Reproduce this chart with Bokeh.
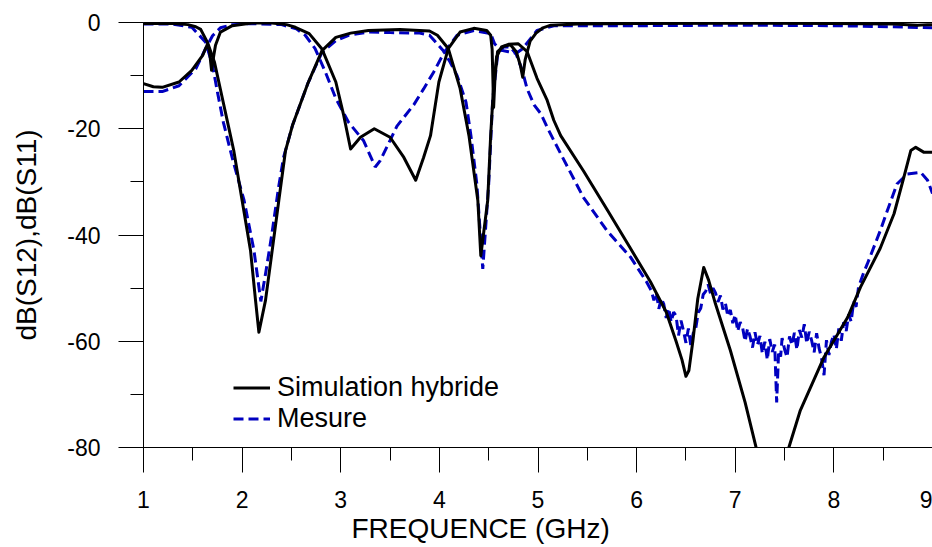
from bokeh.plotting import figure
from bokeh.models import (SingleIntervalTicker, LinearAxis, Legend, LegendItem,
                          Range1d, FixedTicker, PrintfTickFormatter, Title)
from bokeh.embed import file_html
from bokeh.resources import INLINE

# ---- data (frequency in GHz, level in dB) ----
x_ticks_interval = 1
y_ticks_interval = 20
x_title = "FREQUENCE (GHz)"
y_title = "dB(S12),dB(S11)"

sim_s12_f = [1.0, 1.3, 1.45, 1.53, 1.58, 1.65, 1.72, 1.80, 1.86, 1.915, 2.0, 2.085,
             2.136, 2.17, 2.237, 2.305, 2.372, 2.44, 2.51, 2.67, 2.81, 2.95, 3.1,
             3.28, 3.6, 3.9, 3.98, 4.09, 4.21, 4.30, 4.39, 4.42, 4.49, 4.52, 4.55,
             4.58, 4.63, 4.70, 4.80, 4.89, 4.99, 5.09, 5.16, 5.23, 5.46, 5.70, 5.94,
             6.14, 6.30, 6.40, 6.46, 6.50, 6.53, 6.57, 6.62, 6.68, 6.73, 6.80, 6.95,
             7.10, 7.21, 7.38, 7.545, 7.66, 7.90, 8.14, 8.27, 8.47, 8.61, 8.71, 8.78,
             8.83, 8.91, 9.0]
sim_s12_db = [-0.2, -0.2, -0.4, -0.8, -1.3, -3.8, -7.5, -14.3, -19.4, -24.1, -33.5, -42.9,
              -52.3, -58.3, -52.3, -42.9, -33.5, -24.1, -19.4, -11.3, -5.3, -2.8, -2.0,
              -1.5, -1.3, -1.6, -2.4, -4.9, -12.4, -21.3, -33.5, -43.9, -33.5, -21.3, -12.0,
              -6.5, -4.6, -4.1, -4.0, -5.5, -10.5, -14.5, -18.4, -21.3, -27.9, -35.2, -42.6,
              -48.8, -54.5, -60.0, -63.5, -66.6, -65.5, -60.0, -52.0, -46.1, -48.5, -53.0, -61.7,
              -71.5, -79.9, -95.0, -79.9, -73.0, -63.0, -55.5, -49.8, -42.5, -36.0, -29.1, -24.1,
              -23.5, -24.4, -24.4]

sim_s11_f = [1.0, 1.1, 1.19, 1.36, 1.49, 1.60, 1.65, 1.67, 1.69, 1.71, 1.73, 1.78, 1.90,
             2.10, 2.30, 2.45, 2.54, 2.68, 2.81, 2.95, 3.03, 3.10, 3.20, 3.34, 3.50, 3.64,
             3.76, 3.84, 3.91, 3.995, 4.09, 4.21, 4.35, 4.48, 4.52, 4.535, 4.55, 4.565,
             4.59, 4.65, 4.72, 4.78, 4.82, 4.845, 4.87, 4.92, 4.98, 5.05, 5.13, 5.4, 6.0,
             7.0, 8.0, 8.6, 8.85, 8.95, 9.0]
sim_s11_db = [-11.5, -12.1, -12.2, -11.2, -9.0, -6.2, -4.0, -5.5, -9.0, -6.5, -4.3, -1.8, -0.6,
              -0.1, -0.1, -0.4, -0.9, -2.1, -5.0, -11.2, -17.5, -23.8, -21.6, -20.0, -21.6, -25.4,
              -29.7, -25.4, -21.3, -11.2, -4.9, -1.8, -1.1, -1.5, -2.4, -5.0, -16.0, -10.0,
              -5.5, -4.5, -4.2, -5.5, -8.0, -10.3, -7.0, -3.5, -2.0, -1.0, -0.5, -0.3, -0.2,
              -0.15, -0.2, -0.3, -0.5, -0.4, -0.4]

mes_s12_f = [1.0, 1.3, 1.49, 1.63, 1.70, 1.75, 1.81, 1.90, 2.02, 2.12, 2.19, 2.24, 2.30,
             2.37, 2.42, 2.51, 2.67, 2.81, 2.95, 3.08, 3.28, 3.5, 3.8, 3.9, 4.04, 4.11,
             4.18, 4.27, 4.32, 4.38, 4.44, 4.50, 4.54, 4.59, 4.65, 4.72, 4.78, 4.84, 4.89,
             4.96, 5.03, 5.10, 5.23, 5.46, 5.70, 5.94, 6.10,
             6.150, 6.175, 6.200, 6.225, 6.250, 6.275, 6.300, 6.325, 6.350, 6.375, 6.400,
             6.425, 6.450, 6.475, 6.500, 6.525, 6.550, 6.575, 6.600, 6.625, 6.650, 6.675,
             6.700, 6.725, 6.750, 6.775, 6.800, 6.825, 6.850, 6.875, 6.900, 6.925, 6.950,
             6.975, 7.000, 7.025, 7.050, 7.075, 7.100, 7.125, 7.150, 7.175, 7.200, 7.225,
             7.250, 7.275, 7.300, 7.325, 7.350, 7.375, 7.400, 7.420, 7.440, 7.460, 7.475,
             7.500, 7.525, 7.550, 7.575, 7.600, 7.625, 7.650, 7.675, 7.700, 7.725, 7.750,
             7.775, 7.800, 7.825, 7.850, 7.875, 7.900, 7.925, 7.950, 7.975, 8.000, 8.025,
             8.050, 8.075, 8.100, 8.125, 8.150, 8.175, 8.200, 8.225, 8.250, 8.300,
             8.34, 8.47, 8.55, 8.64, 8.745, 8.88, 8.95, 9.0]
mes_s12_db = [-0.3, -0.3, -0.9, -3.7, -8.1, -13.1, -18.8, -25.5, -33.5, -42.9, -52.5, -47.0, -40.0,
              -31.0, -25.4, -19.4, -11.3, -5.6, -3.4, -2.4, -1.8, -1.9, -2.0, -2.4, -5.3, -7.5,
              -10.0, -15.0, -21.3, -30.4, -46.4, -30.4, -14.7, -6.2, -4.6, -4.6, -6.0, -9.0, -12.5,
              -15.5, -17.2, -20.0, -24.7, -32.9, -39.2, -44.2, -48.8,
              -50.5, -52.3, -50.8, -53.9, -51.9, -53.0, -55.6, -53.8, -56.4, -54.5, -55.2,
              -58.9, -56.1, -58.0, -60.3, -57.6, -60.9, -58.4, -57.5, -54.6, -53.8, -51.2,
              -50.6, -49.3, -51.1, -50.0, -50.9, -52.6, -51.4, -54.0, -52.8, -55.3, -54.1,
              -56.6, -55.0, -58.1, -56.4, -57.5, -60.0, -57.6, -59.1, -61.2, -58.3, -60.7,
              -59.0, -62.3, -60.1, -63.5, -59.6, -62.0, -60.6, -71.5, -61.8, -62.9, -59.4,
              -61.5, -63.0, -59.1, -60.7, -58.4, -61.6, -57.9, -59.3, -56.8, -60.4, -58.2,
              -59.9, -62.1, -58.5, -61.3, -63.2, -66.4, -59.8, -62.6, -60.1, -58.7, -61.5,
              -57.6, -59.9, -56.4, -58.1, -54.9, -56.3, -52.6, -53.5, -49.8, -47.2,
              -45.4, -39.2, -35.0, -30.4, -28.5, -28.2, -29.7, -32.2]

mes_s11_f = [1.0, 1.19, 1.36, 1.53, 1.63, 1.70, 1.78, 1.90, 2.10, 2.40, 2.55, 2.64, 2.74,
             2.85, 2.95, 3.08, 3.23, 3.35, 3.40, 3.50, 3.57, 3.74, 3.84, 3.94, 4.05, 4.18,
             4.35, 4.52, 4.56, 4.62, 4.70, 4.78, 4.84, 4.90, 4.99, 5.16, 6.0, 7.0, 8.0,
             8.6, 9.0]
mes_s11_db = [-13.0, -13.0, -11.9, -8.7, -4.9, -2.5, -1.0, -0.4, -0.2, -0.4, -1.2, -2.4, -4.9,
              -9.6, -14.3, -18.8, -22.2, -27.2, -26.0, -22.2, -19.5, -15.5, -12.5, -9.4, -5.6, -2.4,
              -1.5, -2.1, -4.0, -5.2, -5.5, -5.8, -5.0, -3.6, -1.5, -0.6, -0.6, -0.5, -0.6,
              -0.8, -1.0]

FONT = "Liberation Sans"
BLUE = "#0000c0"

p = figure(width=932, height=547, output_backend="svg", toolbar_location=None,
           x_range=Range1d(1, 9), y_range=Range1d(-80, 0),
           min_border_left=143, min_border_right=0, min_border_top=22,
           min_border_bottom=100)
p.grid.visible = False
p.outline_line_color = None
p.background_fill_color = "white"
p.border_fill_color = "white"

for ax in (p.xaxis[0], p.yaxis[0]):
    ax.axis_line_color = "black"
    ax.axis_line_width = 1
    ax.major_tick_in = 0
    ax.major_tick_out = 25
    ax.minor_tick_in = 0
    ax.minor_tick_out = 13
    ax.major_tick_line_color = "black"
    ax.minor_tick_line_color = "black"
    ax.major_label_text_font = FONT
    ax.major_label_text_font_size = "23px"
    ax.major_label_text_color = "black"
    ax.axis_label_text_font = FONT
    ax.axis_label_text_font_style = "normal"
    ax.axis_label_text_font_size = "28px"
    ax.axis_label_text_color = "black"
    ax.formatter = PrintfTickFormatter(format="%d")

p.xaxis[0].ticker = SingleIntervalTicker(interval=x_ticks_interval, num_minor_ticks=2)
p.yaxis[0].ticker = SingleIntervalTicker(interval=y_ticks_interval, num_minor_ticks=2)
p.xaxis[0].major_label_standoff = 18
p.yaxis[0].major_label_standoff = 18
p.yaxis[0].axis_label = y_title
p.yaxis[0].axis_label_standoff = 22

# frame top border
top = LinearAxis(ticker=FixedTicker(ticks=[]), major_tick_in=0, major_tick_out=0,
                 minor_tick_in=0, minor_tick_out=0, major_label_text_font_size="0px",
                 axis_line_color="black")
p.add_layout(top, "above")

# x-axis title, left-aligned with an offset so it sits where the original does
xtitle = Title(text=x_title, align="left", offset=208, standoff=4,
               vertical_align="top", text_font=FONT, text_font_size="28px",
               text_font_style="normal", text_color="black")
p.add_layout(xtitle, "below")

r_mes_s11 = p.line(mes_s11_f, mes_s11_db, line_color=BLUE, line_width=3, line_dash="10 5")
r_mes_s12 = p.line(mes_s12_f, mes_s12_db, line_color=BLUE, line_width=3, line_dash="10 5")
r_sim_s11 = p.line(sim_s11_f, sim_s11_db, line_color="black", line_width=3, line_join="round")
r_sim_s12 = p.line(sim_s12_f, sim_s12_db, line_color="black", line_width=3, line_join="round")

legend = Legend(items=[LegendItem(label="Simulation hybride", renderers=[r_sim_s12]),
                       LegendItem(label="Mesure", renderers=[r_mes_s12])],
                location=(90, 13), margin=0, padding=0, spacing=0,
                glyph_width=37, glyph_height=31, label_height=31, label_standoff=7,
                border_line_color=None, background_fill_alpha=0,
                label_text_font=FONT, label_text_font_size="27px", label_text_color="black")
p.add_layout(legend, "center")

open("out.html", "w").write(file_html(p, INLINE))
